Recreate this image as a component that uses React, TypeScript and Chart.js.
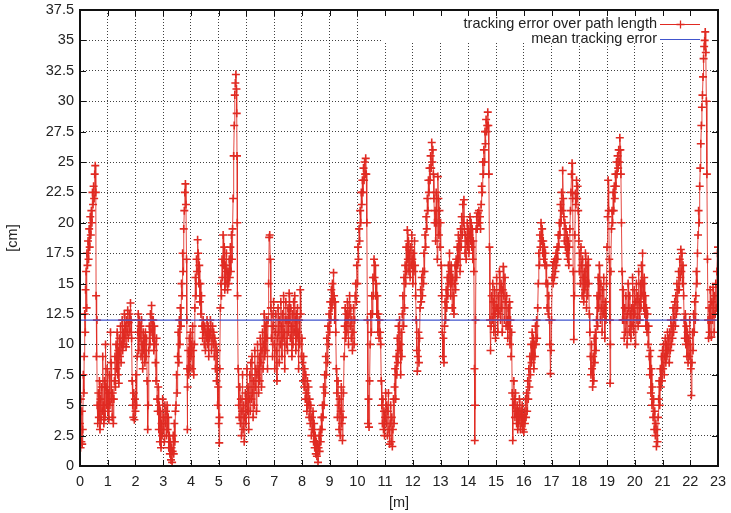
import React, { useEffect, useRef } from "react";
import { Chart, registerables } from "chart.js";

Chart.register(...registerables);

// [path length in m, tracking error in cm]
const trackingSamples: [number, number][] = [
  [0.00,3.5],[0.02,1.5],[0.03,5.5],[0.05,2.0],[0.07,4.5],[0.08,1.8],[0.10,3.0],[0.12,7.5],[0.14,6.0],[0.15,9.0],[0.17,12.5],[0.19,11.0],[0.20,14.5],[0.22,16.0],[0.24,13.0],[0.25,17.5],[0.27,16.5],[0.29,18.5],[0.31,17.0],[0.33,19.5],[0.35,18.0],[0.37,20.5],[0.39,19.0],[0.41,21.0],[0.43,20.0],[0.45,22.5],[0.47,21.5],[0.49,23.0],[0.51,22.0],[0.53,24.0],[0.55,24.7],[0.57,22.5],[0.58,14.0],[0.59,9.0],[0.61,12.0],[0.62,5.0],
  [0.64,3.5],[0.66,6.0],[0.68,4.0],[0.70,7.0],[0.72,3.0],[0.74,5.5],[0.76,3.8],[0.78,6.5],[0.80,4.5],[0.82,9.0],[0.84,5.0],[0.86,3.5],[0.88,7.0],[0.90,4.0],[0.92,10.0],[0.94,6.5],[0.96,5.0],[0.98,8.0],[1.00,4.5],[1.02,6.0],[1.04,3.8],[1.06,7.5],[1.08,5.0],[1.10,11.0],[1.12,8.5],[1.14,5.5],[1.16,4.0],[1.18,6.0],[1.20,3.5],[1.22,5.5],[1.24,7.0],
  [1.26,9.0],[1.28,6.5],[1.30,10.0],[1.32,8.0],[1.34,11.0],[1.36,7.5],[1.38,9.5],[1.40,6.8],[1.42,10.5],[1.44,9.0],[1.46,11.5],[1.48,8.5],[1.50,10.0],[1.52,12.0],[1.54,9.5],[1.56,11.0],[1.58,10.0],[1.60,12.5],[1.62,10.5],[1.64,11.5],[1.66,9.8],[1.68,12.0],[1.70,11.0],[1.72,12.8],[1.74,10.5],[1.76,11.8],[1.78,12.5],[1.80,11.0],[1.82,13.4],[1.84,12.0],[1.86,10.5],
  [1.88,7.0],[1.90,5.0],[1.92,4.0],[1.94,6.0],[1.96,3.8],[1.98,5.5],[2.00,4.5],[2.02,7.5],[2.04,5.0],[2.06,9.0],
  [2.08,11.0],[2.10,12.5],[2.12,9.5],[2.14,12.0],[2.16,10.5],[2.18,11.5],[2.20,9.0],[2.22,12.0],[2.24,10.0],[2.26,8.0],[2.28,11.0],[2.30,9.5],[2.32,10.5],[2.34,8.5],[2.36,11.0],[2.38,9.0],[2.40,10.5],[2.42,7.0],[2.44,3.0],[2.46,5.0],[2.48,9.5],[2.50,11.5],[2.52,10.0],[2.54,12.5],[2.56,11.0],[2.58,13.2],[2.60,12.0],[2.62,10.5],[2.64,12.0],[2.66,9.5],[2.68,11.5],[2.70,10.0],[2.72,8.5],[2.74,7.0],[2.76,10.5],[2.78,5.5],[2.80,4.5],
  [2.82,6.5],[2.84,3.0],[2.86,5.0],[2.88,2.0],[2.90,4.5],[2.92,1.5],[2.94,3.5],[2.96,2.5],[2.98,5.5],[3.00,3.0],[3.02,4.0],[3.04,2.0],[3.06,5.0],[3.08,3.5],[3.10,4.5],[3.12,2.5],[3.14,5.0],[3.16,3.0],[3.18,4.0],[3.20,1.5],[3.22,2.5],[3.24,1.0],[3.26,2.0],[3.28,0.5],[3.30,1.5],[3.32,0.3],[3.34,1.2],[3.36,2.5],[3.38,1.0],[3.40,3.5],[3.42,2.0],[3.44,4.5],
  [3.46,5.0],[3.48,7.5],[3.50,6.0],[3.52,9.0],[3.54,11.0],[3.56,8.5],[3.58,12.0],[3.60,10.0],[3.62,13.0],[3.64,11.5],[3.66,15.0],[3.68,14.0],[3.70,17.5],[3.72,16.0],[3.74,19.5],[3.76,21.0],[3.78,22.5],[3.80,23.2],[3.82,21.5],[3.84,17.0],[3.85,12.0],[3.86,8.0],[3.87,3.0],[3.88,6.5],
  [3.90,9.5],[3.92,7.5],[3.94,10.5],[3.96,8.0],[3.98,11.0],[4.00,9.0],[4.02,10.0],[4.04,8.0],[4.06,11.5],[4.08,9.5],[4.10,7.5],[4.12,10.0],[4.14,13.0],[4.16,15.5],[4.18,14.0],[4.20,17.0],[4.22,16.0],[4.24,18.6],[4.26,17.5],[4.28,15.0],[4.30,16.5],[4.32,13.5],[4.34,15.0],[4.36,12.5],[4.38,14.0],[4.40,11.5],
  [4.42,10.5],[4.44,12.0],[4.46,11.0],[4.48,10.0],[4.50,11.5],[4.52,9.5],[4.54,11.0],[4.56,10.5],[4.58,12.0],[4.60,10.0],[4.62,11.5],[4.64,9.0],[4.66,11.0],[4.68,10.5],[4.70,12.0],[4.72,11.0],[4.74,9.5],[4.76,10.5],[4.78,11.5],[4.80,10.0],[4.82,11.0],[4.84,9.0],[4.86,10.5],[4.88,8.0],[4.90,10.0],[4.92,7.0],[4.94,9.5],[4.96,5.0],[4.98,6.5],[5.00,3.5],[5.02,1.9],[5.03,4.0],[5.04,8.0],
  [5.06,13.0],[5.08,15.0],[5.10,14.0],[5.12,17.0],[5.14,15.5],[5.16,19.0],[5.18,16.5],[5.20,18.0],[5.22,14.5],[5.24,16.5],[5.26,15.0],[5.28,17.5],[5.30,16.0],[5.32,14.5],[5.34,16.0],[5.36,15.0],[5.38,17.0],[5.40,15.5],[5.42,18.0],[5.44,16.0],[5.46,19.0],[5.48,17.0],[5.50,19.5],[5.52,22.0],[5.54,25.5],[5.56,28.0],[5.58,30.5],[5.60,31.5],[5.62,32.2],[5.64,31.0],[5.65,29.0],[5.66,25.5],[5.67,20.0],[5.68,14.0],[5.70,8.0],[5.72,5.0],
  [5.74,4.0],[5.76,6.5],[5.78,3.5],[5.80,5.5],[5.82,2.5],[5.84,4.5],[5.86,7.5],[5.88,3.0],[5.90,5.0],[5.92,2.0],[5.94,4.0],[5.96,6.0],[5.98,3.5],[6.00,5.5],[6.02,8.0],[6.04,4.5],[6.06,6.5],[6.08,3.0],[6.10,5.5],
  [6.12,7.5],[6.14,4.5],[6.16,8.5],[6.18,5.5],[6.20,9.0],[6.22,6.0],[6.24,4.0],[6.26,7.0],[6.28,5.0],[6.30,9.5],[6.32,6.5],[6.34,8.0],[6.36,4.5],[6.38,7.5],[6.40,10.0],[6.42,8.0],[6.44,6.0],[6.46,9.0],[6.48,7.0],[6.50,10.5],[6.52,8.5],[6.54,6.5],[6.56,9.5],[6.58,11.0],[6.60,8.0],[6.62,10.0],[6.64,12.5],[6.66,9.0],[6.68,11.5],[6.70,9.5],[6.72,12.0],[6.74,10.5],[6.76,8.0],
  [6.78,12.0],[6.80,15.0],[6.82,18.8],[6.84,19.0],[6.86,17.0],[6.88,13.0],[6.90,10.5],
  [6.92,12.5],[6.94,9.0],[6.96,11.5],[6.98,13.5],[7.00,10.0],[7.02,8.0],[7.04,11.0],[7.06,12.5],[7.08,9.5],[7.10,7.0],[7.12,10.5],[7.14,13.0],[7.16,11.0],[7.18,8.5],[7.20,12.0],[7.22,10.0],[7.24,13.5],[7.26,11.5],[7.28,9.0],[7.30,12.5],[7.32,10.5],[7.34,14.0],[7.36,11.0],[7.38,8.0],[7.40,12.0],[7.42,13.5],[7.44,10.0],[7.46,12.0],[7.48,9.5],[7.50,13.0],[7.52,11.0],[7.54,14.2],[7.56,12.0],[7.58,10.5],[7.60,13.0],[7.62,11.5],[7.64,9.0],[7.66,12.5],[7.68,10.0],[7.70,13.5],[7.72,11.0],[7.74,14.0],[7.76,12.0],[7.78,9.5],[7.80,12.5],[7.82,10.5],[7.84,13.0],[7.86,11.0],[7.88,8.0],[7.90,12.0],[7.92,10.0],[7.94,14.5],[7.96,12.5],[7.98,9.0],
  [8.00,10.5],[8.02,8.5],[8.04,7.0],[8.06,9.0],[8.08,6.5],[8.10,8.0],[8.12,5.5],[8.14,7.5],[8.16,6.0],[8.18,4.5],[8.20,7.0],[8.22,5.0],[8.24,6.5],[8.26,4.0],[8.28,5.5],[8.30,3.5],[8.32,5.0],[8.34,2.5],[8.36,4.0],[8.38,3.0],[8.40,4.5],[8.42,2.0],[8.44,3.5],[8.46,1.5],[8.48,2.5],[8.50,1.0],[8.52,2.0],[8.54,0.8],[8.56,1.8],[8.58,0.3],[8.60,1.5],[8.62,2.5],[8.64,1.2],[8.66,3.0],[8.68,2.0],[8.70,4.0],[8.72,3.0],
  [8.74,5.0],[8.76,4.0],[8.78,6.5],[8.80,5.0],[8.82,7.5],[8.84,6.0],[8.86,9.0],[8.88,7.5],[8.90,10.5],[8.92,8.5],[8.94,11.5],[8.96,10.0],[8.98,12.5],[9.00,11.0],[9.02,13.5],[9.04,12.0],[9.06,14.5],[9.08,13.0],[9.10,15.0],[9.12,13.5],[9.14,15.9],[9.16,14.0],[9.18,12.0],[9.20,13.5],[9.22,11.0],[9.24,8.0],
  [9.26,6.0],[9.28,4.0],[9.30,7.0],[9.32,5.0],[9.34,3.0],[9.36,5.5],[9.38,2.5],[9.40,4.5],[9.42,6.5],[9.44,3.5],[9.46,2.1],[9.48,4.0],[9.50,6.0],[9.52,9.0],
  [9.54,11.5],[9.56,13.0],[9.58,10.5],[9.60,12.5],[9.62,11.0],[9.64,13.5],[9.66,12.0],[9.68,10.0],[9.70,12.5],[9.72,14.0],[9.74,11.5],[9.76,13.0],[9.78,10.5],[9.80,12.0],[9.82,9.5],[9.84,11.0],[9.86,13.0],[9.88,10.0],[9.90,12.0],[9.92,14.0],
  [9.94,15.0],[9.96,13.5],[9.98,16.5],[10.00,15.0],[10.02,18.0],[10.04,17.0],[10.06,19.5],[10.08,18.5],[10.10,21.0],[10.12,20.0],[10.14,22.5],[10.16,21.5],[10.18,23.5],[10.20,22.5],[10.22,24.5],[10.24,23.5],[10.26,25.0],[10.28,24.0],[10.30,25.3],[10.32,24.0],[10.34,20.0],[10.36,12.0],
  [10.38,3.5],[10.40,5.5],[10.42,3.2],[10.44,7.0],[10.46,10.0],[10.48,12.5],[10.50,11.0],[10.52,14.0],[10.54,12.5],[10.56,15.5],[10.58,14.0],[10.60,17.0],[10.62,15.5],[10.64,16.5],[10.66,14.0],[10.68,15.0],[10.70,12.5],[10.72,14.0],[10.74,11.0],[10.76,12.5],[10.78,10.5],[10.80,12.0],[10.82,11.0],[10.84,10.0],
  [10.86,7.0],[10.88,5.0],[10.90,3.5],[10.92,5.5],[10.94,3.0],[10.96,4.5],[10.98,2.5],[11.00,4.0],[11.02,6.0],[11.04,3.5],[11.06,5.0],[11.08,2.5],[11.10,4.5],[11.12,6.0],[11.14,3.0],[11.16,1.8],[11.18,3.5],[11.20,5.0],[11.22,2.0],[11.24,4.0],[11.26,1.6],[11.28,3.0],[11.30,5.5],[11.32,3.5],[11.34,6.5],[11.36,8.0],[11.38,5.5],[11.40,9.0],[11.42,7.5],[11.44,10.5],
  [11.46,8.5],[11.48,11.5],[11.50,9.5],[11.52,12.0],[11.54,10.0],[11.56,7.5],[11.58,11.0],[11.60,9.0],[11.62,12.5],[11.64,14.0],[11.66,11.5],[11.68,15.5],[11.70,13.0],[11.72,16.5],[11.74,15.0],[11.76,18.0],[11.78,16.0],[11.80,19.4],[11.82,17.0],[11.84,18.5],[11.86,16.0],[11.88,17.5],[11.90,15.5],[11.92,18.0],[11.94,16.5],[11.96,19.0],[11.98,17.0],[12.00,15.0],[12.02,17.5],[12.04,16.0],[12.06,18.5],[12.08,16.5],[12.10,14.0],[12.12,12.0],
  [12.14,9.5],[12.16,7.8],[12.18,9.0],[12.20,11.0],[12.22,8.5],[12.24,10.5],
  [12.26,13.0],[12.28,14.5],[12.30,13.5],[12.32,15.5],[12.34,14.0],[12.36,16.0],[12.38,15.0],[12.40,17.5],[12.42,16.0],[12.44,19.0],[12.46,18.0],[12.48,20.5],
  [12.50,19.5],[12.52,22.0],[12.54,21.0],[12.56,23.5],[12.58,22.5],[12.60,24.5],[12.62,23.5],[12.64,25.5],[12.66,24.5],[12.68,26.6],[12.70,25.0],[12.72,26.0],[12.74,24.0],[12.76,22.0],[12.78,20.0],
  [12.80,21.0],[12.82,18.5],[12.84,22.5],[12.86,20.0],[12.88,17.0],[12.90,23.8],[12.92,22.0],[12.94,19.0],[12.96,21.0],[12.98,18.0],[13.00,20.0],[13.02,16.5],[13.04,14.0],[13.06,11.0],[13.08,9.0],[13.10,10.5],[13.12,8.5],
  [13.14,11.5],[13.16,13.5],[13.18,12.0],[13.20,14.5],[13.22,13.0],[13.24,15.5],[13.26,14.0],[13.28,16.5],[13.30,15.0],[13.32,17.5],[13.34,16.0],[13.36,14.0],[13.38,16.5],[13.40,15.0],[13.42,13.0],[13.44,15.5],[13.46,14.0],[13.48,12.5],[13.50,15.0],[13.52,16.5],[13.54,14.5],[13.56,17.0],[13.58,15.5],[13.60,18.0],[13.62,16.5],[13.64,19.0],[13.66,17.0],[13.68,18.5],[13.70,16.0],[13.72,19.5],[13.74,18.0],[13.76,20.5],[13.78,19.0],[13.80,21.5],[13.82,20.0],[13.84,21.9],[13.86,19.5],[13.88,17.5],
  [13.90,19.0],[13.92,17.0],[13.94,18.5],[13.96,20.0],[13.98,18.0],[14.00,19.5],[14.02,17.5],[14.04,19.0],[14.06,20.5],[14.08,18.5],[14.10,20.0],[14.12,18.0],[14.14,19.5],[14.16,17.0],[14.18,18.5],[14.20,16.0],[14.22,8.0],[14.23,2.1],[14.24,5.0],[14.26,12.0],[14.28,19.5],
  [14.30,20.5],[14.32,19.5],[14.34,20.8],[14.36,20.0],[14.38,21.0],[14.40,20.0],[14.42,20.5],[14.44,19.5],[14.46,21.5],
  [14.48,23.0],[14.50,22.5],[14.52,25.0],[14.54,24.0],[14.56,26.0],[14.58,25.0],[14.60,27.5],[14.62,26.5],[14.64,28.5],[14.66,27.5],[14.68,28.0],[14.70,29.1],[14.72,28.0],[14.74,24.0],[14.76,18.0],[14.78,12.0],[14.80,9.5],
  [14.82,11.5],[14.84,14.0],[14.86,12.0],[14.88,15.0],[14.90,13.5],[14.92,11.0],[14.94,14.5],[14.96,12.5],[14.98,10.5],[15.00,13.0],[15.02,15.5],[15.04,13.0],[15.06,11.0],[15.08,14.0],[15.10,12.5],[15.12,16.0],[15.14,14.5],[15.16,12.0],[15.18,15.0],[15.20,13.0],[15.22,11.0],[15.24,14.5],[15.26,16.4],[15.28,14.0],[15.30,12.0],[15.32,15.5],[15.34,13.5],[15.36,11.5],[15.38,14.0],[15.40,12.0],[15.42,10.5],[15.44,13.0],[15.46,11.5],[15.48,13.5],[15.50,10.0],[15.52,12.0],[15.54,9.0],[15.56,11.0],[15.58,6.0],[15.60,2.1],[15.62,5.0],
  [15.64,7.0],[15.66,5.5],[15.68,4.0],[15.70,6.0],[15.72,4.5],[15.74,3.5],[15.76,5.0],[15.78,3.0],[15.80,4.5],[15.82,3.5],[15.84,5.5],[15.86,4.0],[15.88,3.0],[15.90,4.5],[15.92,3.5],[15.94,5.0],[15.96,3.0],[15.98,4.0],[16.00,2.8],[16.02,4.5],[16.04,3.5],[16.06,5.5],[16.08,4.0],[16.10,6.0],[16.12,4.5],[16.14,7.0],[16.16,5.5],[16.18,8.0],
  [16.20,6.5],[16.22,9.0],[16.24,7.5],[16.26,10.0],[16.28,8.5],[16.30,11.0],[16.32,9.0],[16.34,10.5],[16.36,8.0],[16.38,10.0],[16.40,9.0],[16.42,11.5],[16.44,10.0],[16.46,12.0],[16.48,10.5],[16.50,13.0],[16.52,15.0],[16.54,17.5],[16.56,16.5],[16.58,19.0],[16.60,18.0],[16.62,20.0],[16.64,18.5],[16.66,19.5],[16.68,17.5],[16.70,18.5],[16.72,17.0],[16.74,18.0],[16.76,16.5],[16.78,17.5],[16.80,15.0],[16.82,16.5],[16.84,13.0],[16.86,15.0],[16.88,12.5],[16.90,14.0],[16.92,12.0],[16.94,10.0],[16.96,7.6],[16.98,9.5],[17.00,12.0],[17.02,15.5],[17.04,16.5],[17.06,15.0],[17.08,16.8],[17.10,15.5],[17.12,17.0],[17.14,16.0],[17.16,17.5],[17.18,16.5],[17.20,18.0],[17.22,17.0],[17.24,19.0],
  [17.26,18.0],[17.28,20.0],[17.30,19.0],[17.32,21.5],[17.34,20.0],[17.36,22.5],[17.38,21.0],[17.40,24.3],[17.42,22.0],[17.44,20.5],[17.46,18.5],[17.48,20.0],[17.50,18.0],[17.52,19.5],[17.54,17.5],[17.56,19.0],[17.58,17.0],[17.60,18.5],[17.62,16.5],[17.64,18.0],[17.66,19.5],[17.68,21.0],[17.70,22.5],[17.72,24.0],[17.74,24.9],[17.76,22.0],[17.78,16.0],[17.80,10.4],[17.82,14.0],[17.84,19.0],[17.86,22.4],[17.88,21.5],[17.90,23.5],[17.92,22.0],[17.94,23.0],[17.96,21.0],
  [17.98,18.5],[18.00,16.0],[18.02,17.5],[18.04,15.0],[18.06,18.0],[18.08,16.5],[18.10,14.0],[18.12,17.0],[18.14,15.5],[18.16,13.5],[18.18,16.0],[18.20,14.5],[18.22,17.5],[18.24,15.0],[18.26,13.0],[18.28,16.5],[18.30,14.0],[18.32,17.0],[18.34,15.0],[18.36,12.5],
  [18.38,11.0],[18.40,9.0],[18.42,7.5],[18.44,10.0],[18.46,8.0],[18.48,6.5],[18.50,9.0],[18.52,7.0],[18.54,10.5],[18.56,8.5],[18.58,11.0],[18.60,9.5],[18.62,12.0],
  [18.64,14.0],[18.66,11.5],[18.68,15.5],[18.70,13.0],[18.72,16.5],[18.74,14.0],[18.76,12.0],[18.78,15.0],[18.80,13.0],[18.82,11.0],[18.84,14.5],[18.86,12.5],[18.88,15.5],[18.90,13.0],[18.92,10.5],[18.94,13.5],[18.96,12.0],
  [18.98,15.0],[19.00,18.0],[19.02,20.5],[19.04,23.5],[19.06,21.0],[19.08,17.0],[19.10,12.0],[19.11,6.8],[19.12,10.0],[19.14,16.0],
  [19.16,19.5],[19.18,21.0],[19.20,20.0],[19.22,22.5],[19.24,21.0],[19.26,23.0],[19.28,22.0],[19.30,24.0],[19.32,23.0],[19.34,25.0],[19.36,24.0],[19.38,25.5],[19.40,24.5],[19.42,26.0],[19.44,25.0],[19.46,27.0],[19.48,26.0],[19.50,24.0],[19.52,20.0],[19.54,16.0],[19.56,12.0],
  [19.58,14.5],[19.60,12.0],[19.62,10.5],[19.64,13.0],[19.66,11.0],[19.68,14.0],[19.70,12.0],[19.72,10.0],[19.74,12.5],[19.76,15.0],[19.78,13.0],[19.80,11.0],[19.82,14.0],[19.84,12.5],[19.86,10.5],[19.88,13.0],[19.90,11.5],[19.92,15.5],[19.94,13.0],[19.96,11.0],[19.98,14.5],[20.00,12.5],[20.02,10.0],[20.04,13.5],[20.06,15.0],[20.08,12.0],[20.10,14.0],[20.12,11.5],[20.14,16.0],[20.16,13.5],[20.18,12.0],[20.20,15.0],[20.22,13.0],[20.24,16.5],[20.26,14.0],[20.28,17.5],[20.30,15.0],[20.32,13.0],[20.34,15.5],[20.36,12.5],[20.38,14.0],[20.40,11.5],[20.42,13.0],[20.44,11.0],[20.46,12.5],[20.48,10.0],[20.50,11.5],
  [20.52,9.0],[20.54,7.5],[20.56,9.5],[20.58,6.0],[20.60,8.0],[20.62,5.0],[20.64,6.5],[20.66,4.0],[20.68,5.5],[20.70,3.0],[20.72,4.5],[20.74,2.5],[20.76,3.5],[20.78,1.6],[20.80,3.0],[20.82,2.0],[20.84,4.0],
  [20.86,5.5],[20.88,7.0],[20.90,5.0],[20.92,8.0],[20.94,6.5],[20.96,9.0],[20.98,7.0],[21.00,9.5],[21.02,8.0],[21.04,10.0],[21.06,7.5],[21.08,9.0],[21.10,10.5],[21.12,8.5],[21.14,10.0],[21.16,9.0],[21.18,11.0],[21.20,9.5],[21.22,10.5],[21.24,8.5],[21.26,11.0],[21.28,9.5],[21.30,12.0],[21.32,10.0],[21.34,11.5],[21.36,10.5],[21.38,13.0],[21.40,11.0],
  [21.42,12.0],[21.44,13.5],[21.46,11.5],[21.48,14.0],[21.50,12.5],[21.52,15.0],[21.54,13.0],[21.56,14.5],[21.58,16.0],[21.60,14.5],[21.62,17.0],[21.64,15.5],[21.66,17.8],[21.68,16.0],[21.70,17.5],[21.72,15.0],[21.74,16.5],[21.76,14.0],[21.78,12.0],
  [21.80,10.5],[21.82,12.5],[21.84,10.0],[21.86,11.5],[21.88,9.0],[21.90,11.0],[21.92,8.5],[21.94,10.5],[21.96,9.0],[21.98,12.0],[22.00,10.0],[22.02,8.0],[22.04,5.8],[22.06,8.5],[22.08,11.0],[22.10,9.5],
  [22.12,12.5],[22.14,11.0],[22.16,13.5],[22.18,12.0],[22.20,14.0],[22.22,16.0],[22.24,15.0],[22.26,17.5],[22.28,19.0],[22.30,21.0],[22.32,20.0],[22.34,23.0],[22.36,24.5],[22.38,26.5],[22.40,28.0],[22.42,29.5],[22.44,30.5],[22.46,32.0],[22.48,33.5],[22.50,34.5],[22.52,35.0],[22.54,35.7],[22.56,34.0],[22.58,30.0],[22.60,24.0],[22.62,17.0],[22.64,12.0],
  [22.66,10.5],[22.68,13.0],[22.70,11.0],[22.72,14.5],[22.74,12.0],[22.76,10.6],[22.78,13.5],[22.80,12.0],[22.82,14.7],[22.84,12.5],[22.86,11.0],[22.88,14.0],[22.90,12.5],[22.92,15.0],[22.94,13.0],[22.96,16.0],[22.98,17.5],[23.00,18.0],
];

const meanPath = [0, 23];
const meanError = [12.0, 12.0];

const xTicks = [0, 1, 2, 3, 4, 5, 6, 7, 8, 9, 10, 11, 12, 13, 14, 15, 16, 17, 18, 19, 20, 21, 22, 23];
const yTicks = [0, 2.5, 5, 7.5, 10, 12.5, 15, 17.5, 20, 22.5, 25, 27.5, 30, 32.5, 35, 37.5];

const seriesLabels = ["tracking error over path length", "mean tracking error"];
const RED = "rgb(224, 42, 34)";
const RED_LINE = "rgba(224, 42, 34, 0.85)";
const BLUE = "rgb(65, 85, 205)";
const FONT = "'Liberation Sans', Arial, Helvetica, sans-serif";
const FONT_SIZE = 14.5;
const TEXT = "#222";

const framePlugin = {
  id: "gnuplotFrame",
  beforeDatasetsDraw(chart: any) {
    const { ctx, chartArea: a } = chart;
    ctx.save();
    ctx.fillStyle = "#fff";
    const left = a.left + (a.right - a.left) * 0.475;
    ctx.fillRect(left, a.top, a.right - left, 31);
    ctx.restore();
  },
  afterDraw(chart: any) {
    const { ctx, chartArea: a, scales } = chart;
    ctx.save();
    // inward tick marks on all four sides
    ctx.strokeStyle = "#111";
    ctx.lineWidth = 1;
    const tl = 6;
    ctx.beginPath();
    for (const v of xTicks) {
      const px = Math.round(scales.x.getPixelForValue(v)) + 0.5;
      ctx.moveTo(px, a.bottom);
      ctx.lineTo(px, a.bottom - tl);
      ctx.moveTo(px, a.top);
      ctx.lineTo(px, a.top + tl);
    }
    for (const v of yTicks) {
      const py = Math.round(scales.y.getPixelForValue(v)) + 0.5;
      ctx.moveTo(a.left, py);
      ctx.lineTo(a.left + tl, py);
      ctx.moveTo(a.right, py);
      ctx.lineTo(a.right - tl, py);
    }
    ctx.stroke();
    // frame
    ctx.strokeStyle = "#111";
    ctx.lineWidth = 2;
    ctx.strokeRect(a.left, a.top, a.right - a.left, a.bottom - a.top);

    // legend inside top-right
    ctx.font = `${FONT_SIZE}px ${FONT}`;
    ctx.textAlign = "right";
    ctx.textBaseline = "middle";
    const textX = a.right - 61;
    const s0 = a.right - 58;
    const s1 = a.right - 18;
    chart.data.datasets.forEach((ds: any, i: number) => {
      const y = a.top + 14 + i * 15;
      ctx.fillStyle = TEXT;
      ctx.fillText(ds.label, textX, y);
      const col = ds.pointRadius > 0 ? RED : BLUE;
      ctx.strokeStyle = col;
      ctx.lineWidth = 1.2;
      const ly = Math.round(y) + 0.5;
      ctx.beginPath();
      ctx.moveTo(s0, ly);
      ctx.lineTo(s1, ly);
      ctx.stroke();
      if (ds.pointRadius > 0) {
        const cx = Math.round((s0 + s1) / 2) + 0.5;
        ctx.lineWidth = 1.3;
        ctx.beginPath();
        ctx.moveTo(cx - 4, ly);
        ctx.lineTo(cx + 4, ly);
        ctx.moveTo(cx, ly - 4);
        ctx.lineTo(cx, ly + 4);
        ctx.stroke();
      }
    });
    ctx.restore();
  },
};

export default function App() {
  const ref = useRef<HTMLCanvasElement | null>(null);

  useEffect(() => {
    if (!ref.current) return;
    const errorPoints = trackingSamples.map(([x, y]) => ({ x, y }));
    const meanPoints = meanPath.map((x, i) => ({ x, y: meanError[i] }));
    const chart = new Chart(ref.current, {
      type: "scatter",
      data: {
        datasets: [
          {
            label: seriesLabels[0],
            data: errorPoints,
            showLine: true,
            borderColor: RED_LINE,
            backgroundColor: RED,
            borderWidth: 1,
            pointStyle: "cross",
            pointRadius: 4,
            pointBorderWidth: 1.6,
            pointBorderColor: RED,
            order: 1,
          } as any,
          {
            label: seriesLabels[1],
            data: meanPoints,
            showLine: true,
            borderColor: BLUE,
            backgroundColor: BLUE,
            borderWidth: 1.3,
            pointRadius: 0,
            order: 0,
          } as any,
        ],
      },
      options: {
        animation: false,
        responsive: false,
        devicePixelRatio: 1,
        events: [],
        layout: { padding: { top: 10, right: 13, bottom: 0, left: 0 } },
        plugins: {
          legend: { display: false },
          tooltip: { enabled: false },
        },
        scales: {
          x: {
            type: "linear",
            min: 0,
            max: 23,
            afterBuildTicks: (s: any) => {
              s.ticks = xTicks.map((v) => ({ value: v }));
            },
            afterFit: (s: any) => {
              s.height = 47;
              s.paddingLeft = 0;
              s.paddingRight = 0;
            },
            ticks: {
              color: TEXT,
              font: { family: FONT, size: FONT_SIZE },
              padding: 7,
              maxRotation: 0,
              autoSkip: false,
              callback: (v: any) => String(v),
            },
            grid: { color: "rgba(0,0,0,0.75)", lineWidth: 1, drawTicks: false },
            border: { display: false, dash: [1, 2] },
            title: {
              display: true,
              text: "[m]",
              color: TEXT,
              font: { family: FONT, size: FONT_SIZE },
              padding: { top: 0, bottom: 1 },
            },
          },
          y: {
            type: "linear",
            min: 0,
            max: 37.5,
            afterBuildTicks: (s: any) => {
              s.ticks = yTicks.map((v) => ({ value: v }));
            },
            afterFit: (s: any) => {
              s.width = 80;
              s.paddingTop = 0;
              s.paddingBottom = 0;
            },
            ticks: {
              color: TEXT,
              font: { family: FONT, size: FONT_SIZE },
              padding: 6,
              autoSkip: false,
              callback: (v: any) => String(v),
            },
            grid: { color: "rgba(0,0,0,0.75)", lineWidth: 1, drawTicks: false },
            border: { display: false, dash: [1, 2] },
            title: {
              display: true,
              text: "[cm]",
              color: TEXT,
              font: { family: FONT, size: FONT_SIZE },
              padding: { top: 4, bottom: 4 },
            },
          },
        },
      },
      plugins: [framePlugin],
    });
    return () => chart.destroy();
  }, []);

  return (
    <div style={{ position: "absolute", left: 0, top: 0, width: 731, height: 513, background: "#fff" }}>
      <canvas ref={ref} width={731} height={513} />
    </div>
  );
}
